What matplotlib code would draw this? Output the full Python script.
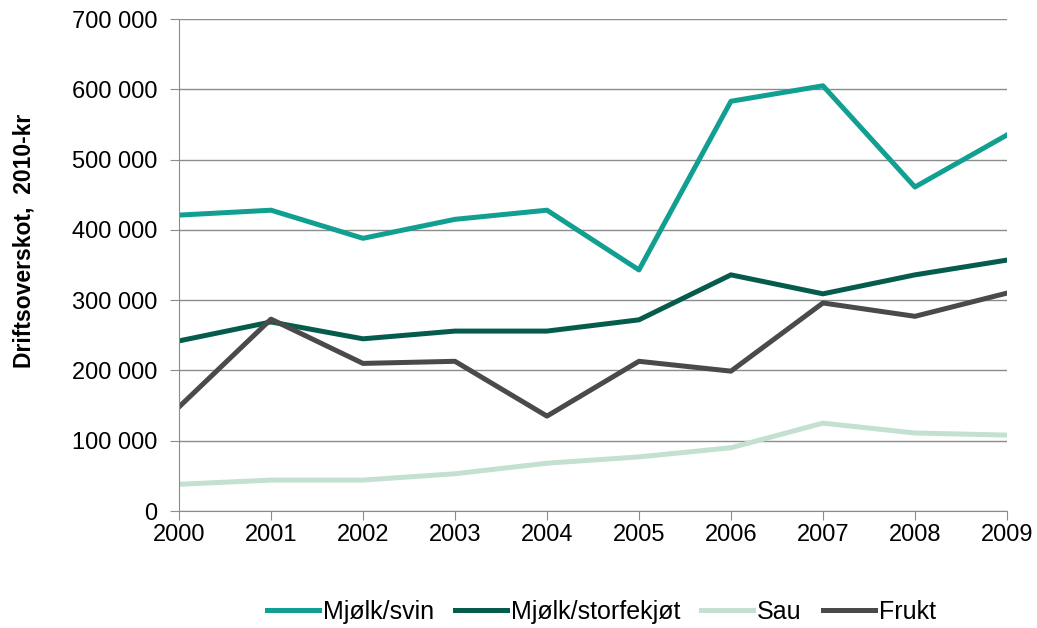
import matplotlib
matplotlib.use("Agg")
import matplotlib.pyplot as plt
from matplotlib.ticker import FuncFormatter

plt.rcParams["font.family"] = ["Liberation Sans", "DejaVu Sans"]

years = [2000, 2001, 2002, 2003, 2004, 2005, 2006, 2007, 2008, 2009]
mjolk_svin = [421000, 428000, 388000, 415000, 428000, 343000, 583000, 605000, 461000, 535000]
mjolk_storfe = [242000, 269000, 245000, 256000, 256000, 272000, 336000, 309000, 336000, 357000]
sau = [38000, 44000, 44000, 53000, 68000, 77000, 90000, 125000, 111000, 108000]
frukt = [148000, 273000, 210000, 213000, 135000, 213000, 199000, 296000, 277000, 310000]

series = [
    ("Mjølk/svin", mjolk_svin, "#119f91"),
    ("Mjølk/storfekjøt", mjolk_storfe, "#065c4c"),
    ("Sau", sau, "#c4e0d1"),
    ("Frukt", frukt, "#4a4a4a"),
]

fig = plt.figure(figsize=(10.37, 6.28), dpi=100)
ax = fig.add_axes([0.1726, 0.1863, 0.7984, 0.7834])

for name, vals, col in series:
    ax.plot(years, vals, color=col, linewidth=3.6, label=name)

ax.set_xlim(2000, 2009)
ax.set_ylim(0, 700000)
ax.set_xticks(years)
ax.set_yticks(range(0, 700001, 100000))
ax.yaxis.set_major_formatter(FuncFormatter(lambda v, p: f"{int(v):,}".replace(",", " ")))
ax.grid(axis="y", color="#8c8c8c", linewidth=1)
ax.set_axisbelow(True)
for s in ["top", "right"]:
    ax.spines[s].set_visible(False)
for s in ["left", "bottom"]:
    ax.spines[s].set_color("#8c8c8c")
ax.tick_params(axis="both", colors="#8c8c8c", labelcolor="black", labelsize=17, length=6.5)
ax.tick_params(axis="y", pad=9)
ax.tick_params(axis="x", pad=3)
ax.set_ylabel("Driftsoverskot,  2010-kr", fontsize=16.5, fontweight="bold")
ax.yaxis.set_label_coords(-0.173, 0.549)

leg = ax.legend(loc="center", bbox_to_anchor=(0.51, -0.205), ncol=4, frameon=False,
                fontsize=18, handlelength=2.08, handletextpad=0.16, columnspacing=0.84)

fig.savefig("out.png", dpi=100)
